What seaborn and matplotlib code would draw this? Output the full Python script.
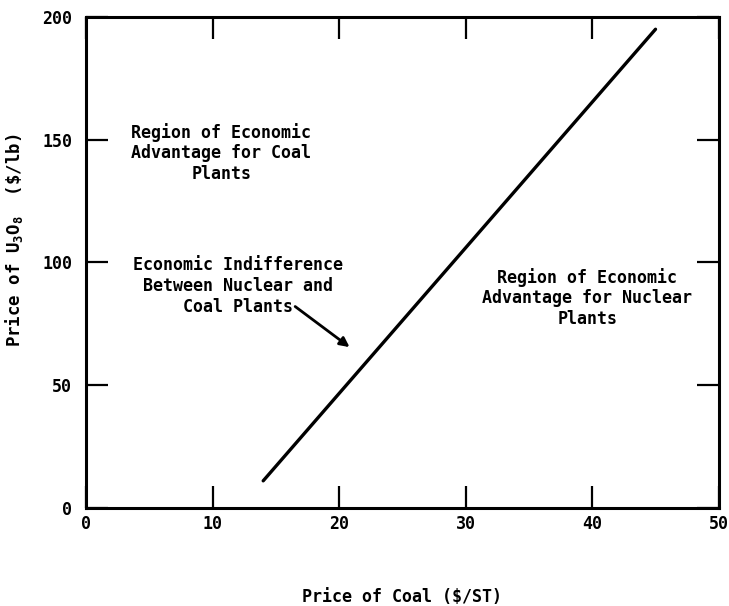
import matplotlib
matplotlib.use("Agg")
import matplotlib.pyplot as plt
import seaborn as sns
import pandas as pd

# Data
coal_price = [14, 45]
u3o8_price = [11, 195]
x_ticks = [0, 10, 20, 30, 40, 50]
y_ticks = [0, 50, 100, 150, 200]
x_label = "Price of Coal ($/ST)"
y_label = r"Price of U$_3$O$_8$  (\$/lb)"
text_coal = "Region of Economic\nAdvantage for Coal\nPlants"
text_indiff = "Economic Indifference\nBetween Nuclear and\nCoal Plants"
text_nuclear = "Region of Economic\nAdvantage for Nuclear\nPlants"

sns.set_theme(style="white")
plt.rcParams['font.family'] = ['DejaVu Sans Mono']
plt.rcParams['text.color'] = 'black'
plt.rcParams['mathtext.fontset'] = 'custom'
plt.rcParams['mathtext.rm'] = 'DejaVu Sans Mono:bold'
plt.rcParams['mathtext.it'] = 'DejaVu Sans Mono:bold'
plt.rcParams['mathtext.bf'] = 'DejaVu Sans Mono:bold'

df = pd.DataFrame({"coal": coal_price, "u3o8": u3o8_price})

fig = plt.figure(figsize=(7.29, 6.06), dpi=100)
ax = fig.add_axes([0.118, 0.162, 0.868, 0.810])
sns.lineplot(data=df, x="coal", y="u3o8", ax=ax, color="black", linewidth=2.4)

ax.set_xlim(0, 50)
ax.set_ylim(0, 200)
ax.set_xticks(x_ticks)
ax.set_yticks(y_ticks)
ax.set_xticklabels([str(t) for t in x_ticks], fontsize=12, fontweight='bold')
ax.set_yticklabels([str(t) for t in y_ticks], fontsize=12, fontweight='bold')
ax.tick_params(direction='in', length=16, width=1.6, top=True, right=True,
               bottom=True, left=True, colors='black')
ax.tick_params(axis='x', pad=5)
ax.tick_params(axis='y', pad=10)
for s in ax.spines.values():
    s.set_linewidth(2.2)
    s.set_color('black')

ax.set_xlabel(x_label, fontsize=12, fontweight='bold', labelpad=40, color='black')
ax.set_ylabel(y_label, fontsize=12.5, fontweight='bold', labelpad=12, color='black')
ax.yaxis.label.set_y(0.545)

for (tx, ty, s) in [(10.7, 144.6, text_coal), (12.0, 90.4, text_indiff),
                    (39.6, 85.5, text_nuclear)]:
    ax.text(tx, ty, s, ha='center', va='center', fontsize=12, color='black',
            fontweight='bold', linespacing=1.2, multialignment='center')
ax.annotate("", xy=(21.0, 64.8), xytext=(16.35, 82.7),
            arrowprops=dict(arrowstyle='-|>', color='black', lw=2,
                            mutation_scale=14))

fig.savefig("out.png", dpi=100)
